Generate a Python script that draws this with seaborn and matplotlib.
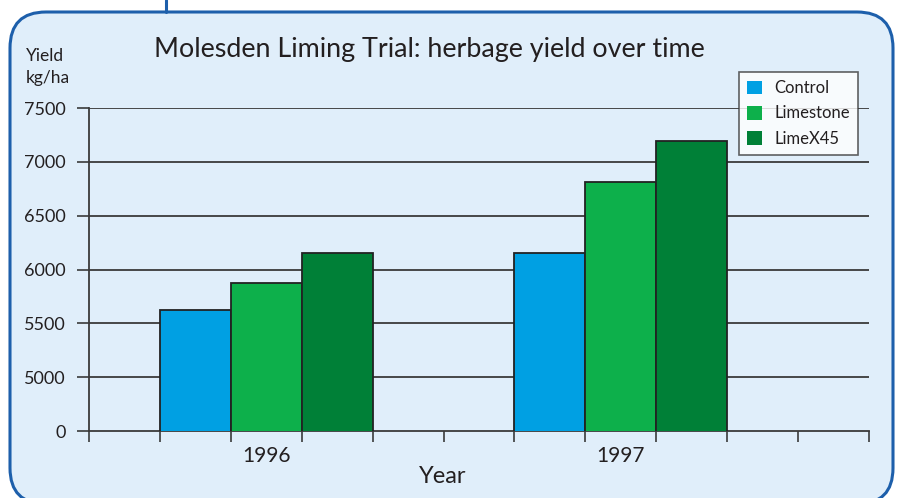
import pandas as pd
import matplotlib
matplotlib.use("Agg")
import matplotlib.pyplot as plt
import seaborn as sns
from matplotlib.patches import FancyBboxPatch
from matplotlib.ticker import FixedLocator, FuncFormatter

# Data
years = ["1996", "1997"]
treatments = ["Control", "Limestone", "LimeX45"]
control = [5625, 6150]
limestone = [5875, 6810]
limex45 = [6150, 7195]
y_ticks = [4500, 5000, 5500, 6000, 6500, 7000, 7500]
y_tick_labels = ["0", "5000", "5500", "6000", "6500", "7000", "7500"]
colors = ["#00a0e3", "#0db04b", "#008037"]

df = pd.DataFrame({
    "Year": years * 3,
    "Treatment": [t for t in treatments for _ in years],
    "Yield": control + limestone + limex45,
})

sns.set_style("white")
plt.rcParams["font.family"] = ["Lato", "DejaVu Sans"]
text_col = "#231f20"

W, H = 897, 498
fig = plt.figure(figsize=(W / 100, H / 100), dpi=100)
fig.patch.set_facecolor("white")

# rounded panel behind the chart (inches, y measured from bottom)
panel = FancyBboxPatch((0.10, (H - 504) / 100), 8.83, 4.92,
                       boxstyle="round,pad=0,rounding_size=0.36",
                       transform=fig.dpi_scale_trans, facecolor="#e0eefa",
                       edgecolor="#1d5fab", linewidth=2.2, zorder=-5)
fig.patches.append(panel)
fig.add_artist(plt.Line2D([166 / W, 166 / W], [1, 1 - 12 / H], color="#1d5fab",
                          linewidth=2.2, transform=fig.transFigure, zorder=-4))

ax = fig.add_axes([89 / W, 1 - 431 / H, 780 / W, 323 / H])
ax.set_facecolor("none")

sns.barplot(data=df, x="Year", y="Yield", hue="Treatment", palette=colors,
            width=0.6, edgecolor="#222222", linewidth=1.3, saturation=1,
            ax=ax, zorder=3)

ax.set_ylim(4500, 7500)
ax.set_xlim(-0.5, 1.7)
ax.yaxis.set_major_locator(FixedLocator(y_ticks))
ax.yaxis.set_major_formatter(FuncFormatter(lambda v, p: y_tick_labels[y_ticks.index(int(round(v)))]))
for v in y_ticks[1:]:
    ax.axhline(v, color="#3a3a3a", linewidth=1.3, zorder=1)

ax.set_xticks([0, 1])
ax.set_xticklabels(years)
ax.set_xticks([-0.5 + 0.2 * k for k in range(12)], minor=True)
ax.tick_params(axis="x", which="major", length=0, pad=11, labelsize=15, labelcolor=text_col)
ax.tick_params(axis="x", which="minor", length=8, width=1.2, direction="out", color="#3a3a3a", bottom=True)
ax.tick_params(axis="y", length=9, width=1.2, direction="out", pad=8, labelsize=13,
               color="#3a3a3a", labelcolor=text_col, left=True)

for s in ["top", "right"]:
    ax.spines[s].set_visible(False)
for s in ["left", "bottom"]:
    ax.spines[s].set_color("#3a3a3a")
    ax.spines[s].set_linewidth(1.3)

ax.set_xlabel("Year", fontsize=17, color=text_col, labelpad=0)
ax.xaxis.label.set_x((443 - 89) / 780)
ax.set_ylabel("")

leg = ax.legend(loc="upper right", bbox_to_anchor=((858 - 89) / 780, (431 - 72) / 323),
                frameon=True, fancybox=False, fontsize=12, handlelength=0.9,
                handleheight=0.9, handletextpad=0.7, labelspacing=0.55,
                borderpad=0.5, borderaxespad=0)
leg.get_frame().set_edgecolor("#3a3a3a")
leg.get_frame().set_linewidth(1.2)
leg.set_zorder(5)
for t in leg.get_texts():
    t.set_color(text_col)
for h in leg.legend_handles:
    h.set_edgecolor("none")

fig.text(429 / W, 1 - 49 / H, "Molesden Liming Trial: herbage yield over time",
         ha="center", va="center", fontsize=19.4, color=text_col)
fig.text(26 / W, 1 - 56 / H, "Yield", ha="left", va="center", fontsize=12.5, color=text_col)
fig.text(26 / W, 1 - 78 / H, "kg/ha", ha="left", va="center", fontsize=12.5, color=text_col)

fig.savefig("out.png", dpi=100)
